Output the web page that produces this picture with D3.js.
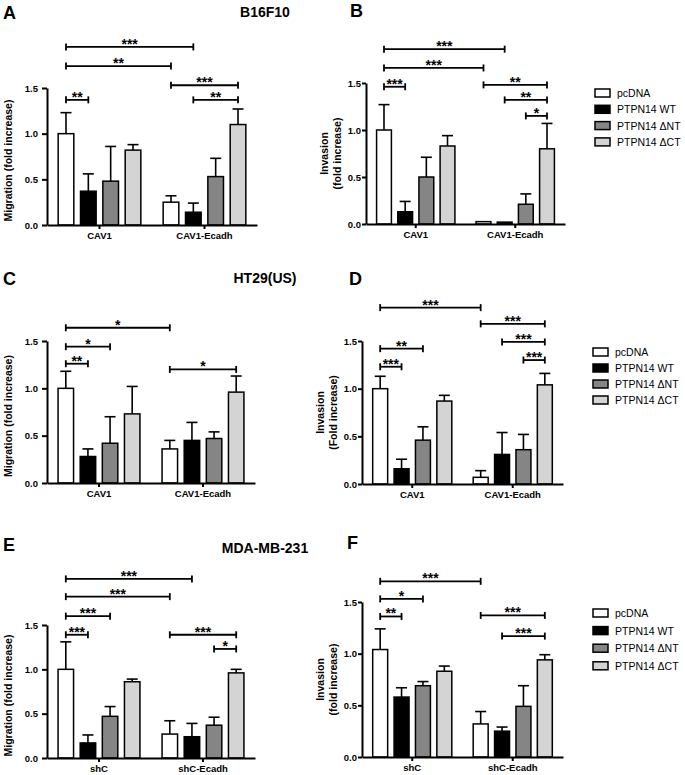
<!DOCTYPE html>
<html>
<head>
<meta charset="utf-8">
<script src="https://cdn.jsdelivr.net/npm/d3@7"></script>
<style>
  body { margin: 0; background: #fff; }
  svg { display: block; font-family: "Liberation Sans", Arial, Helvetica, sans-serif; }
</style>
</head>
<body>
<script>
// ---------- DATA ----------
const series = ["pcDNA", "PTPN14 WT", "PTPN14 \u0394NT", "PTPN14 \u0394CT"];
const catsCav = ["CAV1", "CAV1-Ecadh"];
const catsSh = ["shC", "shC-Ecadh"];
const yTicks = [0, 0.5, 1.0, 1.5];
const titles = ["B16F10", "HT29(US)", "MDA-MB-231"];
const letters = ["A", "B", "C", "D", "E", "F"];

// means [category][series], sd [category][series]
const aMeans = [[1.00, 0.37, 0.48, 0.82], [0.25, 0.14, 0.53, 1.10]];
const aSds   = [[0.23, 0.19, 0.38, 0.06], [0.07, 0.10, 0.20, 0.17]];
const bMeans = [[1.00, 0.13, 0.50, 0.83], [0.025, 0.02, 0.21, 0.80]];
const bSds   = [[0.27, 0.11, 0.21, 0.11], [0.0, 0.0, 0.11, 0.27]];
const cMeans = [[1.00, 0.28, 0.42, 0.73], [0.36, 0.45, 0.47, 0.96]];
const cSds   = [[0.18, 0.08, 0.28, 0.29], [0.09, 0.19, 0.07, 0.17]];
const dMeans = [[1.00, 0.16, 0.46, 0.87], [0.07, 0.31, 0.36, 1.04]];
const dSds   = [[0.13, 0.10, 0.14, 0.06], [0.07, 0.23, 0.16, 0.12]];
const eMeans = [[1.00, 0.17, 0.47, 0.86], [0.27, 0.24, 0.37, 0.96]];
const eSds   = [[0.31, 0.09, 0.11, 0.03], [0.15, 0.15, 0.09, 0.04]];
const fMeans = [[1.04, 0.58, 0.69, 0.83], [0.32, 0.25, 0.49, 0.94]];
const fSds   = [[0.20, 0.09, 0.04, 0.05], [0.12, 0.04, 0.20, 0.05]];

// brackets: [fromCat, fromSeries, toCat, toSeries, label, level (data units)]
const aBrackets = [[0,0,1,1,"***",1.95],[0,0,1,0,"**",1.74],[0,0,0,1,"**",1.37],[1,0,1,3,"***",1.53],[1,1,1,3,"**",1.37]];
const bBrackets = [[0,0,1,1,"***",1.86],[0,0,1,0,"***",1.66],[0,0,0,1,"***",1.46],[1,0,1,3,"**",1.48],[1,1,1,3,"**",1.32],[1,2,1,3,"*",1.15]];
const cBrackets = [[0,0,1,0,"*",1.64],[0,0,0,2,"*",1.44],[0,0,0,1,"**",1.26],[1,0,1,3,"*",1.20]];
const dBrackets = [[0,0,1,0,"***",1.85],[1,0,1,3,"***",1.68],[1,1,1,3,"***",1.49],[1,2,1,3,"***",1.30],[0,0,0,2,"**",1.42],[0,0,0,1,"***",1.23]];
const eBrackets = [[0,0,1,1,"***",2.02],[0,0,1,0,"***",1.82],[0,0,0,2,"***",1.60],[0,0,0,1,"***",1.39],[1,0,1,3,"***",1.39],[1,2,1,3,"*",1.23]];
const fBrackets = [[0,0,1,0,"***",1.70],[0,0,0,2,"*",1.53],[0,0,0,1,"**",1.36],[1,0,1,3,"***",1.37],[1,1,1,3,"***",1.17]];

// ---------- STYLE / LAYOUT ----------
const fills = ["#ffffff", "#000000", "#858585", "#d4d4d4"];
const W = 685, H = 775;
const svg = d3.select("body").append("svg").attr("width", W).attr("height", H);

const panels = [
  {letter: letters[0], cats: catsCav, means: aMeans, sds: aSds, br: aBrackets, ylab: ["Migration (fold increase)"],
   xr: [47, 257], yr: [225, 88], lpos: [3, 19], side: "L"},
  {letter: letters[1], cats: catsCav, means: bMeans, sds: bSds, br: bBrackets, ylab: ["Invasion", "(fold increase)"],
   xr: [366, 565], yr: [224, 83], lpos: [350, 17], side: "R"},
  {letter: letters[2], cats: catsCav, means: cMeans, sds: cSds, br: cBrackets, ylab: ["Migration (fold increase)"],
   xr: [47, 255], yr: [483, 341], lpos: [3, 285], side: "L"},
  {letter: letters[3], cats: catsCav, means: dMeans, sds: dSds, br: dBrackets, ylab: ["Invasion", "(Fold increase)"],
   xr: [362, 563], yr: [484, 341], lpos: [349, 285], side: "R"},
  {letter: letters[4], cats: catsSh, means: eMeans, sds: eSds, br: eBrackets, ylab: ["Migration (fold increase)"],
   xr: [47, 255], yr: [758, 625], lpos: [3, 551], side: "L"},
  {letter: letters[5], cats: catsSh, means: fMeans, sds: fSds, br: fBrackets, ylab: ["Invasion", "(fold increase)"],
   xr: [362, 563], yr: [757, 602], lpos: [347, 549], side: "R"}
];

const titlePos = [[265, 17], [265, 283], [265, 553]];
const legends = [
  {x: 595, y: 93, dy: 16.3},
  {x: 593, y: 352, dy: 16},
  {x: 593, y: 613, dy: 17.6}
];

panels.forEach(p => {
  const g = svg.append("g");
  const x0 = d3.scaleBand().domain(p.cats).range(p.xr).paddingInner(0).paddingOuter(0);
  const x1 = d3.scaleBand().domain(series).range([0, x0.bandwidth()]).paddingInner(0.3).paddingOuter(0.5);
  const y = d3.scaleLinear().domain([0, 1.5]).range(p.yr);
  const cx = (c, s) => x0(p.cats[c]) + x1(series[s]) + x1.bandwidth() / 2;

  // bars
  p.cats.forEach((cat, ci) => {
    const gg = g.append("g").attr("transform", `translate(${x0(cat)},0)`);
    const rows = series.map((s, si) => ({s, si, m: p.means[ci][si], sd: p.sds[ci][si]}));
    // error bars (upper only)
    gg.selectAll("line.err").data(rows.filter(d => d.sd > 0)).join("line")
      .attr("x1", d => x1(d.s) + x1.bandwidth() / 2).attr("x2", d => x1(d.s) + x1.bandwidth() / 2)
      .attr("y1", d => y(d.m)).attr("y2", d => y(d.m + d.sd))
      .attr("stroke", "#000").attr("stroke-width", 1.6);
    gg.selectAll("line.cap").data(rows.filter(d => d.sd > 0)).join("line")
      .attr("x1", d => x1(d.s) + x1.bandwidth() / 2 - 5.5).attr("x2", d => x1(d.s) + x1.bandwidth() / 2 + 5.5)
      .attr("y1", d => y(d.m + d.sd)).attr("y2", d => y(d.m + d.sd))
      .attr("stroke", "#000").attr("stroke-width", 1.6);
    gg.selectAll("rect").data(rows).join("rect")
      .attr("x", d => x1(d.s)).attr("width", x1.bandwidth())
      .attr("y", d => y(d.m)).attr("height", d => y(0) - y(d.m))
      .attr("fill", d => fills[d.si]).attr("stroke", "#000").attr("stroke-width", 1.5);
  });

  // y axis
  const ya = g.append("g").attr("transform", `translate(${p.xr[0]},0)`)
    .call(d3.axisLeft(y).tickValues(yTicks).tickFormat(d3.format(".1f"))
      .tickSize(p.side === "L" ? 5 : 4).tickSizeOuter(0).tickPadding(p.side === "L" ? 4 : 1));
  ya.select(".domain").attr("stroke-width", 2);
  ya.selectAll(".tick line").attr("stroke-width", 2);
  ya.selectAll("text").attr("font-size", 9.5).attr("font-weight", "bold").attr("fill", "#000")
    .attr("font-family", "Liberation Sans, Arial, sans-serif");

  // x axis
  const xa = g.append("g").attr("transform", `translate(0,${y(0)})`)
    .call(d3.axisBottom(x0).tickSize(4).tickSizeOuter(0).tickPadding(3));
  xa.select(".domain").attr("stroke-width", 2);
  xa.selectAll(".tick line").attr("stroke-width", 2);
  xa.selectAll("text").attr("font-size", 9.5).attr("font-weight", "bold").attr("fill", "#000")
    .attr("font-family", "Liberation Sans, Arial, sans-serif");

  // y label
  const ymid = (p.yr[0] + p.yr[1]) / 2;
  if (p.ylab.length === 1) {
    g.append("text").attr("transform", `translate(12,${ymid + 4}) rotate(-90)`)
      .attr("text-anchor", "middle").attr("font-size", 10.5).attr("font-weight", "bold").text(p.ylab[0]);
  } else {
    g.append("text").attr("transform", `translate(${p.xr[0] - 38},${ymid}) rotate(-90)`)
      .attr("text-anchor", "middle").attr("font-size", 10.5).attr("font-weight", "bold").text(p.ylab[0]);
    g.append("text").attr("transform", `translate(${p.xr[0] - 25},${ymid}) rotate(-90)`)
      .attr("text-anchor", "middle").attr("font-size", 10.5).attr("font-weight", "bold").text(p.ylab[1]);
  }

  // panel letter
  g.append("text").attr("x", p.lpos[0]).attr("y", p.lpos[1])
    .attr("font-size", 18).attr("font-weight", "bold").text(p.letter);

  // brackets
  p.br.forEach(b => {
    const xa1 = cx(b[0], b[1]), xa2 = cx(b[2], b[3]), yy = y(b[5]);
    g.append("line").attr("x1", xa1).attr("x2", xa2).attr("y1", yy).attr("y2", yy)
      .attr("stroke", "#000").attr("stroke-width", 1.8);
    [xa1, xa2].forEach(xx => g.append("line").attr("x1", xx).attr("x2", xx)
      .attr("y1", yy - 3.5).attr("y2", yy + 3.5).attr("stroke", "#000").attr("stroke-width", 1.8));
    g.append("text").attr("x", (xa1 + xa2) / 2).attr("y", yy + 2)
      .attr("text-anchor", "middle").attr("font-size", 14).attr("font-weight", "bold")
      .attr("fill", "#000").text(b[4]);
  });
});

// titles
titles.forEach((t, i) => {
  svg.append("text").attr("x", titlePos[i][0]).attr("y", titlePos[i][1])
    .attr("text-anchor", "middle").attr("font-size", 14).attr("font-weight", "bold").text(t);
});

// legends
legends.forEach(L => {
  const lg = svg.append("g");
  series.forEach((s, i) => {
    const yy = L.y + i * L.dy;
    lg.append("rect").attr("x", L.x).attr("y", yy - 4).attr("width", 15).attr("height", 8)
      .attr("fill", fills[i]).attr("stroke", "#000").attr("stroke-width", 1.5);
    lg.append("text").attr("x", L.x + 22).attr("y", yy + 4)
      .attr("font-size", 10.5).text(s);
  });
});
</script>
</body>
</html>
